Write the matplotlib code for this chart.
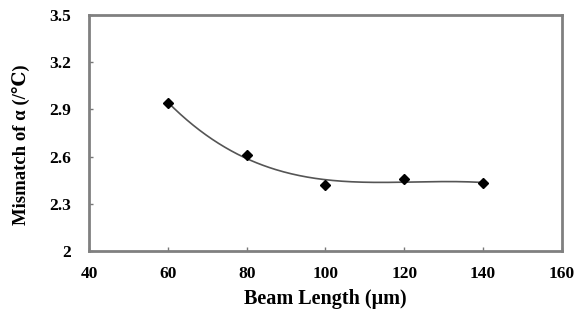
import numpy as np
import matplotlib.pyplot as plt

beam_length = [60, 80, 100, 120, 140]
mismatch = [2.94, 2.61, 2.42, 2.46, 2.43]
x_ticks = [40, 60, 80, 100, 120, 140, 160]
y_ticks = [2, 2.3, 2.6, 2.9, 3.2, 3.5]
y_tick_labels = ["2", "2.3", "2.6", "2.9", "3.2", "3.5"]

plt.rcParams['font.family'] = ['Liberation Serif', 'DejaVu Serif']
plt.rcParams['font.weight'] = 'bold'

fig = plt.figure(figsize=(5.75, 3.21), dpi=100)
ax = fig.add_axes([0.155, 0.218, 0.822, 0.735])

# trendline (polynomial fit, like the spreadsheet one)
coef = np.polyfit(beam_length, mismatch, 3)
xs = np.linspace(beam_length[0], beam_length[-1], 200)
ax.plot(xs, np.polyval(coef, xs), color='#555555', lw=1.2)
ax.plot(beam_length, mismatch, 'D', color='black', ms=5.5)

ax.set_xlim(40, 160)
ax.set_ylim(2, 3.5)
ax.set_xticks(x_ticks)
ax.set_yticks(y_ticks)
ax.set_yticklabels(y_tick_labels)
ax.tick_params(direction='in', length=3, width=1, color='#777777', labelsize=12.5)
ax.tick_params(axis='y', pad=13)
ax.tick_params(axis='x', pad=11)
for s in ax.spines.values():
    s.set_color('#808080')
    s.set_linewidth(2)

ax.set_xlabel('Beam Length (μm)', fontsize=14.5, fontweight='bold', labelpad=5)
ax.set_ylabel('Mismatch of α (/℃)', fontsize=13.5, fontweight='bold')
ax.yaxis.set_label_coords(-0.125, 0.45)

fig.savefig('out.png')
